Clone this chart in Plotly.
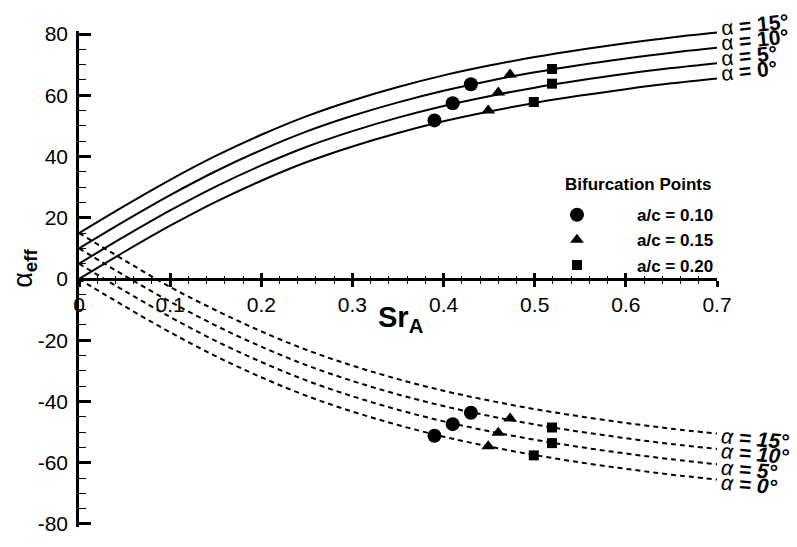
import plotly.graph_objects as go

# ---------------- data ----------------
sr = [0.0, 0.05, 0.10, 0.15, 0.20, 0.25, 0.30, 0.35, 0.40, 0.45, 0.50, 0.55, 0.60, 0.65, 0.70]

upper_a0 = [0, 8.9, 17.4, 25.2, 32.1, 38.2, 43.3, 47.7, 51.5, 54.7, 57.5, 59.9, 62.0, 63.9, 65.5]
upper_a5 = [5, 13.9, 22.4, 30.2, 37.1, 43.2, 48.3, 52.7, 56.5, 59.7, 62.5, 64.9, 67.0, 68.9, 70.5]
upper_a10 = [10, 18.9, 27.4, 35.2, 42.1, 48.2, 53.3, 57.7, 61.5, 64.7, 67.5, 69.9, 72.0, 73.9, 75.5]
upper_a15 = [15, 23.9, 32.4, 40.2, 47.1, 53.2, 58.3, 62.7, 66.5, 69.7, 72.5, 74.9, 77.0, 78.9, 80.5]

lower_a0 = [0, -8.9, -17.4, -25.2, -32.1, -38.2, -43.3, -47.7, -51.5, -54.7, -57.5, -59.9, -62.0, -63.9, -65.5]
lower_a5 = [5, -3.9, -12.4, -20.2, -27.1, -33.2, -38.3, -42.7, -46.5, -49.7, -52.5, -54.9, -57.0, -58.9, -60.5]
lower_a10 = [10, 1.1, -7.4, -15.2, -22.1, -28.2, -33.3, -37.7, -41.5, -44.7, -47.5, -49.9, -52.0, -53.9, -55.5]
lower_a15 = [15, 6.1, -2.6, -10.2, -17.1, -23.2, -28.3, -32.7, -36.5, -39.7, -42.5, -44.9, -47.0, -48.9, -50.5]

curve_labels = ["0°", "5°", "10°", "15°"]
upper_curves = [upper_a0, upper_a5, upper_a10, upper_a15]
lower_curves = [lower_a0, lower_a5, lower_a10, lower_a15]

# bifurcation points (alpha = 0, 5, 10 on each branch)
bif_title = "Bifurcation Points"
bif_names = ["a/c = 0.10", "a/c = 0.15", "a/c = 0.20"]
bif_symbols = ["circle", "triangle-up", "square"]
bif_sizes = [14, 12, 10]
bif_x = [
    [0.39, 0.41, 0.43, 0.39, 0.41, 0.43],
    [0.449, 0.460, 0.473, 0.449, 0.460, 0.473],
    [0.499, 0.519, 0.519, 0.499, 0.519, 0.519],
]
bif_y = [
    [51.8, 57.4, 63.6, -51.2, -47.4, -43.7],
    [55.0, 60.9, 66.8, -54.6, -50.2, -45.6],
    [57.8, 63.8, 68.6, -57.6, -53.6, -48.5],
]

x_ticks = [0, 0.1, 0.2, 0.3, 0.4, 0.5, 0.6, 0.7]
x_ticktext = ["0", "0.1", "0.2", "0.3", "0.4", "0.5", "0.6", "0.7"]
y_ticks = [-80, -60, -40, -20, 0, 20, 40, 60, 80]
y_ticktext = ["-80", "-60", "-40", "-20", "0", "20", "40", "60", "80"]

FONT = "Arial, 'Liberation Sans', sans-serif"
SERIF = "'Liberation Serif', 'DejaVu Serif', serif"

fig = go.Figure()

for ys in upper_curves:
    fig.add_trace(go.Scatter(x=sr, y=ys, mode="lines", line=dict(color="black", width=2, shape="spline"),
                             showlegend=False, hoverinfo="skip"))
for ys in lower_curves:
    fig.add_trace(go.Scatter(x=sr, y=ys, mode="lines",
                             line=dict(color="black", width=2, dash="5px,4px", shape="spline"),
                             showlegend=False, hoverinfo="skip"))

for name, sym, sz, xs, ys in zip(bif_names, bif_symbols, bif_sizes, bif_x, bif_y):
    fig.add_trace(go.Scatter(x=xs, y=ys, mode="markers", name=f"<b>{name}</b>",
                             marker=dict(symbol=sym, size=sz, color="black", line=dict(width=0))))

# invisible trace for the second x axis (ticks crossing the line)
fig.add_trace(go.Scatter(x=[0, 0.7], y=[0, 0], xaxis="x2", mode="markers",
                         marker=dict(opacity=0), showlegend=False, hoverinfo="skip"))

annotations = []
for lab, ys in zip(curve_labels, upper_curves):
    annotations.append(dict(
        x=sr[-1], y=ys[-1], xref="x", yref="y", xanchor="left", yanchor="middle",
        xshift=1, yshift=8, textangle=-6, showarrow=False,
        text=f"<span style='font-family:{SERIF}'>α</span><b> = {lab}</b>",
        font=dict(size=21, color="black", family=FONT)))
for lab, ys in zip(curve_labels, lower_curves):
    annotations.append(dict(
        x=sr[-1], y=ys[-1], xref="x", yref="y", xanchor="left", yanchor="middle",
        xshift=1, yshift=-5, textangle=5, showarrow=False,
        text=f"<i><span style='font-family:{SERIF}'>α</span><b> = {lab}</b></i>",
        font=dict(size=21, color="black", family=FONT)))

# axis titles
annotations.append(dict(
    x=-0.085, y=0.522, xref="paper", yref="paper", xanchor="center", yanchor="middle",
    textangle=-90, showarrow=False,
    text=f"<span style='font-family:{SERIF}'>α</span><sub><b>eff</b></sub>",
    font=dict(size=27, color="black", family=FONT)))
annotations.append(dict(
    x=0.505, y=0.42, xref="paper", yref="paper", xanchor="center", yanchor="middle",
    showarrow=False,
    text="<b>Sr<sub>A</sub></b>",
    font=dict(size=29, color="black", family=FONT)))
# legend title
annotations.append(dict(
    x=0.7586, y=0.690, xref="paper", yref="paper", xanchor="left", yanchor="middle",
    showarrow=False, text=f"<b>{bif_title}</b>",
    font=dict(size=17, color="black", family=FONT)))

fig.update_layout(
    width=797, height=547,
    margin=dict(l=79, r=80, t=31, b=12),
    paper_bgcolor="white", plot_bgcolor="white",
    font=dict(family=FONT, color="black", size=21),
    annotations=annotations,
    showlegend=True,
    legend=dict(
        x=0.6865, y=0.665, xanchor="left", yanchor="top",
        bgcolor="rgba(0,0,0,0)",
        font=dict(size=17, family=FONT, color="black"),
        itemwidth=110,
        tracegroupgap=0,
    ),
    xaxis=dict(
        range=[0, 0.7], anchor="free", position=0.5,
        tickvals=x_ticks, ticktext=x_ticktext,
        ticks="outside", ticklen=6, tickwidth=2.5, tickcolor="black",
        showline=True, linewidth=2.5, linecolor="black",
        showgrid=False, zeroline=False,
        tickfont=dict(size=21, family=FONT),
        minor=dict(dtick=0.02, ticks="outside", ticklen=3, tickwidth=1, tickcolor="black", showgrid=False),
    ),
    xaxis2=dict(
        range=[0, 0.7], overlaying="x", anchor="free", position=0.5,
        tickvals=x_ticks, ticks="inside", ticklen=6, tickwidth=2.5, tickcolor="black",
        showticklabels=False, showline=False, showgrid=False, zeroline=False,
        minor=dict(dtick=0.02, ticks="inside", ticklen=3, tickwidth=1, tickcolor="black", showgrid=False),
    ),
    yaxis=dict(
        range=[-81, 81], anchor="x",
        tickvals=y_ticks, ticktext=y_ticktext,
        ticks="inside", ticklen=12, tickwidth=2.5, tickcolor="black",
        showline=True, linewidth=2.5, linecolor="black",
        showgrid=False, zeroline=False,
        tickfont=dict(size=21, family=FONT),
        ticklabelstandoff=4,
        minor=dict(dtick=5, ticks="inside", ticklen=7, tickwidth=1, tickcolor="black", showgrid=False),
    ),
)

fig.write_html("out.html")
